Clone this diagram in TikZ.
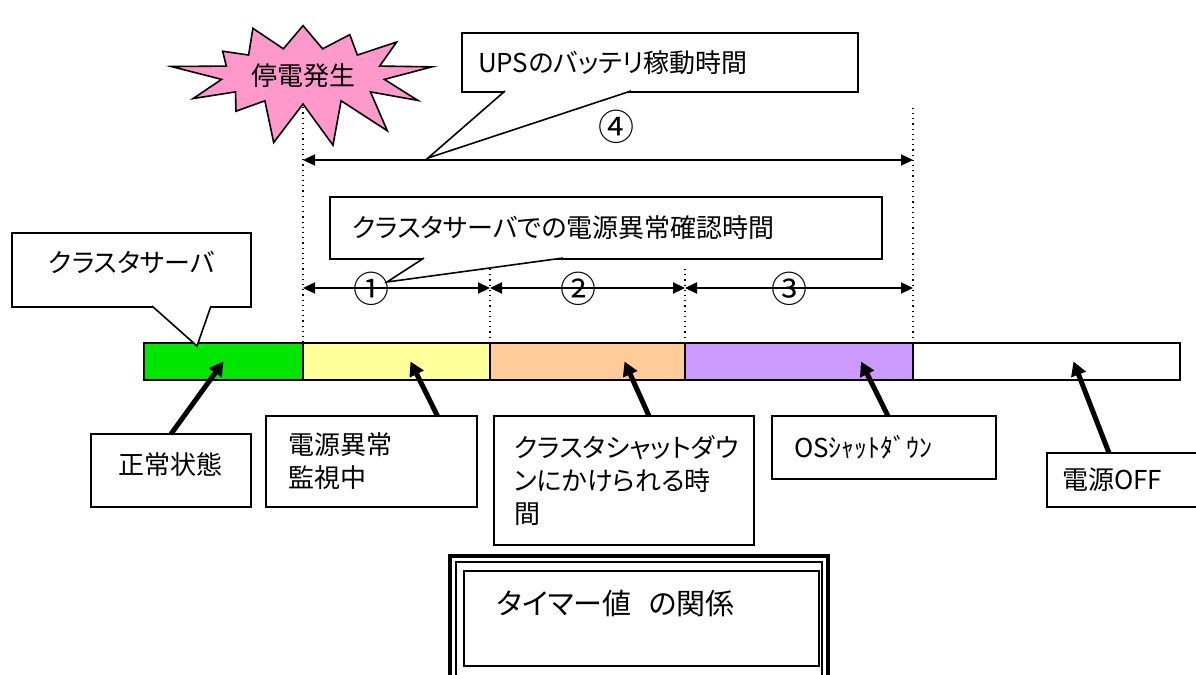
\documentclass[tikz,border=0pt]{standalone}
\usepackage{fontspec}
\setmainfont{Noto Sans CJK JP}[RawFeature=+palt]
\usetikzlibrary{positioning, arrows.meta, shapes.symbols, calc, backgrounds}
\definecolor{segGreen}{RGB}{0,230,0}
\definecolor{segYellow}{RGB}{255,255,153}
\definecolor{segOrange}{RGB}{255,204,153}
\definecolor{segPurple}{RGB}{204,153,255}
\definecolor{starPink}{RGB}{255,153,204}

\begin{document}
\begin{tikzpicture}[x=0.5pt, y=-0.5pt,
    font=\fontsize{13}{16.5}\selectfont,
    seg/.style={rectangle, draw, line width=0.8pt, minimum height=18.5pt, inner sep=0pt, outer sep=0pt, anchor=west},
    lbl/.style={rectangle, draw, line width=0.8pt, fill=white, inner ysep=0pt, outer sep=0pt, anchor=north west, align=left},
    guide/.style={dotted, line width=0.6pt},
    span/.style={{Triangle[length=6pt,width=5.5pt]}-{Triangle[length=6pt,width=5.5pt]}, line width=1.1pt},
    pointer/.style={-{Triangle[length=7pt,width=7.5pt]}, line width=2.5pt},
    tail/.style={draw, line width=0.8pt, fill=white},
    num/.style={font=\fontsize{18}{18}\selectfont, inner sep=0pt}
]
    \useasboundingbox (0,0) rectangle (1196,675);

    \coordinate (rowTotal) at (0,160);
    \coordinate (rowPart) at (0,288);
    \coordinate (topTotal) at (0,105);
    \coordinate (topPart) at (0,269);

    \node[seg, fill=segGreen, minimum width=79.5pt] (segNormal) at (144,361.5) {};
    \node[seg, fill=segYellow, minimum width=93.5pt, right=0pt of segNormal] (segWatch) {};
    \node[seg, fill=segOrange, minimum width=97.5pt, right=0pt of segWatch] (segCShut) {};
    \node[seg, fill=segPurple, minimum width=114pt, right=0pt of segCShut] (segOSShut) {};
    \node[seg, fill=white, minimum width=133.5pt, right=0pt of segOSShut] (segOff) {};

    \node[starburst, draw, fill=starPink, line width=0.8pt, starburst points=13, starburst point height=26pt,
          minimum width=134pt, minimum height=80pt, random starburst=42, inner sep=0pt] (outage) at (303,76) {停電発生};

    \begin{scope}[on background layer]
        \draw[guide] (outage.center) -- (segWatch.north west);
    \end{scope}
    \draw[guide] (segCShut.north west) -- (segCShut.north west |- topPart);
    \draw[guide] (segOSShut.north west) -- (segOSShut.north west |- topPart);
    \draw[guide] (segOff.north west) -- (segOff.north west |- topTotal);

    \draw[span] (segWatch.north west |- rowTotal) -- (segOff.north west |- rowTotal);
    \draw[span] (segWatch.north west |- rowPart) -- (segCShut.north west |- rowPart);
    \draw[span] (segCShut.north west |- rowPart) -- (segOSShut.north west |- rowPart);
    \draw[span] (segOSShut.north west |- rowPart) -- (segOff.north west |- rowPart);

    \node[num] (numTotal) at (616,127) {④};
    \node[num] (numA) at (371,289) {①};
    \node[num] (numB) at (578,289) {②};
    \node[num] (numC) at (789,289) {③};

    \node[lbl, text width=182pt, inner xsep=8pt, minimum height=29.5pt] (upsBox) at (462,33) {UPSのバッテリ稼動時間};
    \node[lbl, text width=254pt, inner xsep=11pt, minimum height=31pt] (checkBox) at (330,197) {クラスタサーバでの電源異常確認時間};
    \node[lbl, align=center, text width=109.5pt, inner xsep=5pt, minimum height=37pt] (srvBox) at (12,233) {\raisebox{8pt}{クラスタサーバ}};

    \coordinate (upsTip) at (428,158);
    \coordinate (checkTip) at (387,282);
    \coordinate (srvTip) at (197,346);
    \path[tail] ($(upsBox.south west)+(43,-1)$) -- (upsTip) -- ($(upsBox.south west)+(169,-1)$);
    \path[tail] ($(checkBox.south west)+(94,-1)$) -- (checkTip) -- ($(checkBox.south west)+(233,-1)$);
    \path[tail] ($(srvBox.south west)+(140,-1)$) -- (srvTip) -- ($(srvBox.south west)+(199,-1)$);

    \node[lbl, align=center, text width=70pt, inner xsep=5pt, minimum height=36.5pt] (normal) at (91,434) {\raisebox{7pt}{正常状態}};
    \node[lbl, text width=83.5pt, inner xsep=11pt, minimum height=45.5pt] (monitor) at (266,416) {電源異常\\監視中};
    \node[lbl, text width=110pt, inner xsep=10pt, minimum height=64.5pt] (cshut) at (494,416) {クラスタシャットダウ\\ンにかけられる時\\間};
    \node[lbl, text width=90pt, inner xsep=11pt, minimum height=31.5pt] (osShut) at (772,416) {OSｼｬｯﾄﾀﾞｳﾝ};
    \node[lbl, text width=69pt, inner xsep=7.5pt, minimum height=27pt] (offBox) at (1047,453) {電源OFF};

    \draw[pointer] (normal.north) -- (segNormal.center);
    \draw[pointer] ($(monitor.north)+(66,0)$) -- ($(segWatch.center)+(14,0)$);
    \draw[pointer] ($(cshut.north)+(25,0)$) -- ($(segCShut.center)+(37,0)$);
    \draw[pointer] ($(osShut.north)+(4,0)$) -- ($(segOSShut.center)+(62,0)$);
    \draw[pointer] ($(offBox.north)+(-22,0)$) -- ($(segOff.center)+(27,0)$);

    \draw[line width=2.2pt] (450,556) rectangle (828,692);
    \draw[line width=1pt] (456,562) rectangle (822,686);
    \node[draw, line width=1.2pt, minimum width=177.5pt, minimum height=47.5pt, anchor=north west, inner sep=0pt] (titleBox) at (463,570) {};
    \node[anchor=west, font=\fontsize{14.5}{16}\selectfont] (title) at (490,603) {タイマー値\hspace{0.6em}の関係};
\end{tikzpicture}
\end{document}
